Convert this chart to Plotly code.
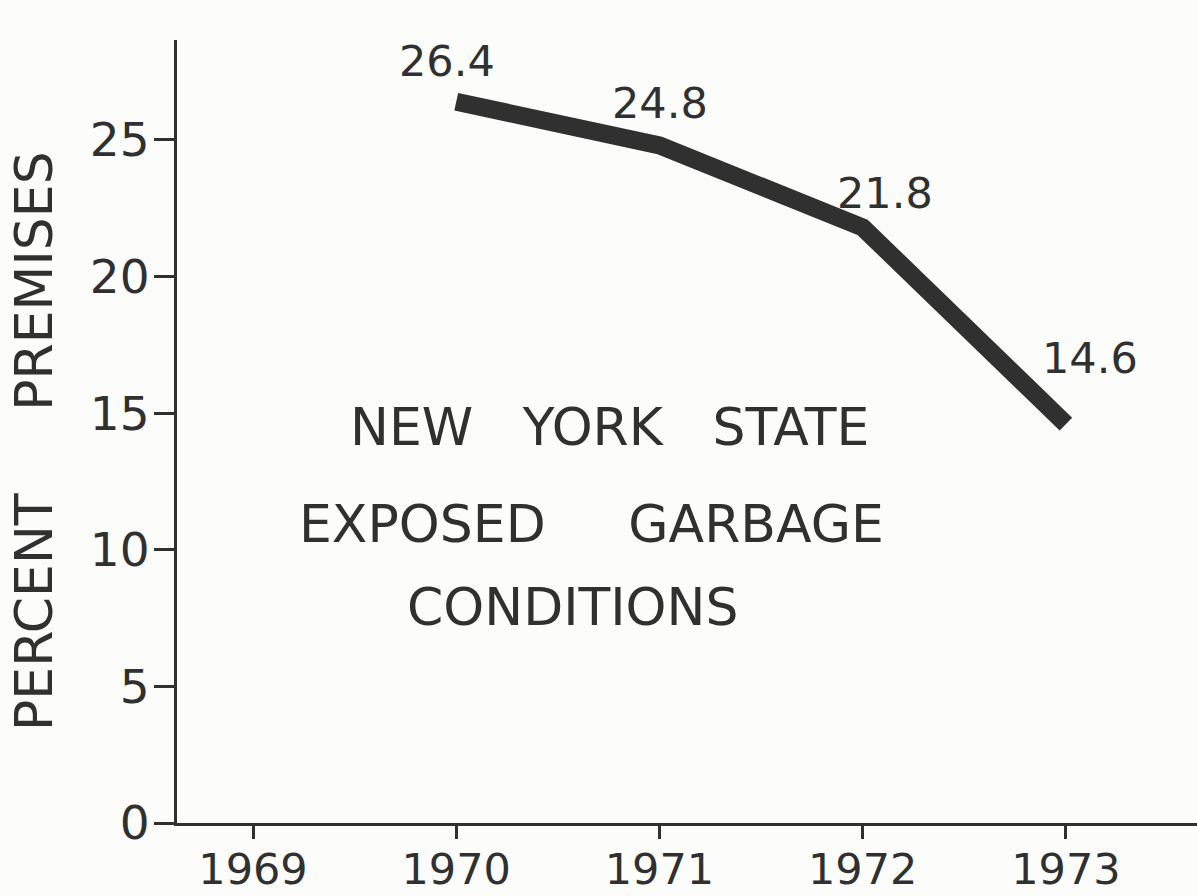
import plotly.graph_objects as go

years = [1970, 1971, 1972, 1973]
percent = [26.4, 24.8, 21.8, 14.6]
label_text = ["26.4", "24.8", "21.8", "14.6"]
x_ticks = [1969, 1970, 1971, 1972, 1973]
y_ticks = [0, 5, 10, 15, 20, 25]
title_lines = ["NEW YORK STATE", "EXPOSED GARBAGE", "CONDITIONS"]
y_title_words = ["PERCENT", "PREMISES"]

W, H = 1197, 896
L, R, T, B = 177, 0, 40, 73
PW, PH = W - L - R, H - T - B

def px_x(px):
    return (px - L) / PW

def px_y(py):
    return (H - B - py) / PH

INK = "#303030"
BG = "#fcfcfb"
FONT = "DejaVu Sans"
NB = "\u00a0"

fig = go.Figure()
fig.add_trace(go.Scatter(
    x=years, y=percent, mode="lines",
    line=dict(color=INK, width=18),
    hoverinfo="skip", showlegend=False,
))

# value labels offset from their data points
shifts = [(-9, 41), (1, 42), (22, 34), (24, 66)]
annotations = []
for xv, yv, t, (dx, dy) in zip(years, percent, label_text, shifts):
    annotations.append(dict(
        x=xv, y=yv, xref="x", yref="y", text=t, showarrow=False,
        xshift=dx, yshift=dy, xanchor="center", yanchor="middle",
        font=dict(family=FONT, size=43, color=INK),
    ))

# chart title block inside plot
gaps = [NB * 3, NB * 5, NB * 3]
centers = [(609, 427), (591, 524), (572, 607)]
for line, gap, (cx, cy) in zip(title_lines, gaps, centers):
    annotations.append(dict(
        x=px_x(cx), y=px_y(cy), xref="paper", yref="paper",
        text=line.replace(" ", gap), showarrow=False,
        xanchor="center", yanchor="middle",
        font=dict(family=FONT, size=52, color=INK),
    ))

# rotated y-axis title
annotations.append(dict(
    x=px_x(34), y=px_y(441), xref="paper", yref="paper",
    text=(NB * 5).join(y_title_words), showarrow=False, textangle=-90,
    xanchor="center", yanchor="middle",
    font=dict(family=FONT, size=52, color=INK),
))

fig.update_layout(
    width=W, height=H,
    margin=dict(l=L, r=R, t=T, b=B, pad=0, autoexpand=False),
    paper_bgcolor=BG, plot_bgcolor=BG,
    annotations=annotations,
    showlegend=False,
)
fig.update_xaxes(
    range=[1968.626, 1973.645], showgrid=False, zeroline=False,
    showline=True, linecolor=INK, linewidth=3, automargin=False,
    tickmode="array", tickvals=x_ticks, ticktext=[str(v) for v in x_ticks],
    ticks="outside", ticklen=13, tickwidth=3, tickcolor=INK,
    tickfont=dict(family=FONT, size=43, color=INK),
    ticklabelstandoff=-7,
)
fig.update_yaxes(
    range=[0, 28.66], showgrid=False, zeroline=False,
    showline=True, linecolor=INK, linewidth=3, automargin=False,
    tickmode="array", tickvals=y_ticks, ticktext=[str(v) for v in y_ticks],
    ticks="outside", ticklen=20, tickwidth=3, tickcolor=INK,
    tickfont=dict(family=FONT, size=47, color=INK),
    ticklabelstandoff=-5,
)

fig.write_html(
    "out.html",
    config={"displayModeBar": False},
    post_script="document.body.style.margin='0';document.body.style.overflow='hidden';",
)
